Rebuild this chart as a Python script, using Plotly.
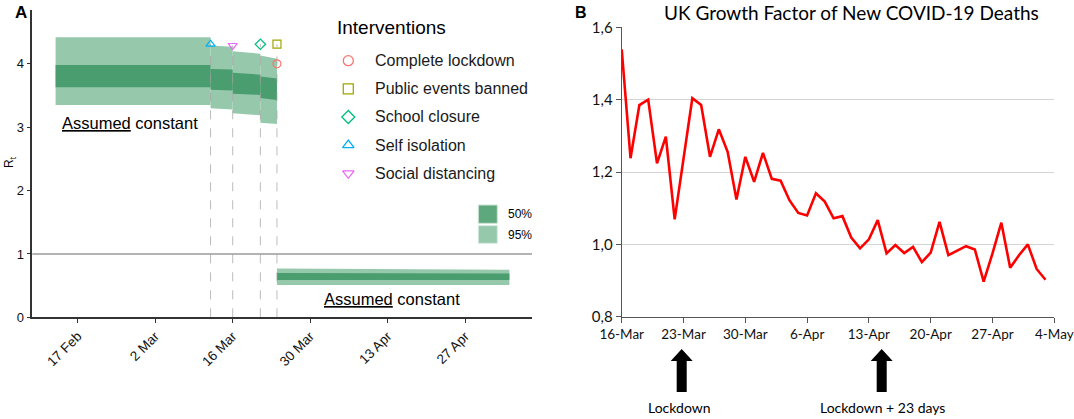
import plotly.graph_objects as go
import pandas as pd

W, H = 1074, 419


def fx(p):
    # pixel column -> paper x
    return p / W


def fy(p):
    # pixel row -> paper y
    return (H - p) / H


# ---- Panel A: estimated Rt, piecewise constant between interventions
seg_start = ["2020-02-13", "2020-03-12", "2020-03-16", "2020-03-21", "2020-03-24"]
seg_end = ["2020-03-12", "2020-03-16", "2020-03-21", "2020-03-24", "2020-05-05"]
lo95_start = [3.35, 3.30, 3.22, 3.07, 0.51]
lo95_end = [3.35, 3.28, 3.19, 3.05, 0.51]
hi95_start = [4.42, 4.29, 4.20, 4.13, 0.77]
hi95_end = [4.42, 4.27, 4.16, 4.08, 0.75]
lo50_start = [3.63, 3.59, 3.53, 3.46, 0.59]
lo50_end = [3.63, 3.58, 3.51, 3.43, 0.59]
hi50_start = [3.98, 3.92, 3.86, 3.80, 0.70]
hi50_end = [3.98, 3.91, 3.83, 3.77, 0.69]

interventions = ["Complete lockdown", "Public events banned", "School closure",
                 "Self isolation", "Social distancing"]
int_dates = ["2020-03-24", "2020-03-24", "2020-03-21", "2020-03-12", "2020-03-16"]
int_marker_y = [4.0, 4.31, 4.31, 4.31, 4.29]
int_symbols = ["circle-open", "square-open", "diamond-open",
               "triangle-up-open", "triangle-down-open"]
int_colors = ["#F8766D", "#A3A500", "#00BF7D", "#00B0F6", "#E76BF3"]

# ---- Panel B: UK growth factor of new deaths, daily from 16 Mar
growth = [1.539, 1.238, 1.385, 1.400, 1.224, 1.298, 1.069, 1.235, 1.404, 1.385,
          1.242, 1.318, 1.256, 1.124, 1.242, 1.173, 1.253, 1.181, 1.176, 1.122,
          1.087, 1.080, 1.141, 1.118, 1.072, 1.078, 1.019, 0.989, 1.014, 1.067,
          0.975, 0.998, 0.976, 0.993, 0.951, 0.977, 1.062, 0.970, 0.982, 0.995,
          0.986, 0.897, 0.975, 1.060, 0.935, 0.970, 1.000, 0.932, 0.902]
growth_dates = pd.date_range("2020-03-16", periods=len(growth), freq="D")
growth_ticks = [0.8, 1.0, 1.2, 1.4, 1.6]

C95 = "#96c8ac"
C50 = "#4a9d6e"
FA = "Liberation Sans, Arial, sans-serif"
FB = "Lato, Open Sans, sans-serif"

fig = go.Figure()

# bands: 95% then 50%
for lo_s, lo_e, hi_s, hi_e, col in [(lo95_start, lo95_end, hi95_start, hi95_end, C95),
                                     (lo50_start, lo50_end, hi50_start, hi50_end, C50)]:
    for i in range(len(seg_start)):
        fig.add_trace(go.Scatter(
            x=[seg_start[i], seg_end[i], seg_end[i], seg_start[i]],
            y=[lo_s[i], lo_e[i], hi_e[i], hi_s[i]],
            fill="toself", fillcolor=col, mode="lines", line=dict(width=0),
            showlegend=False, hoverinfo="skip", xaxis="x", yaxis="y"))

# dashed lines at the intervention dates
vx, vy = [], []
for d in sorted(set(int_dates)):
    top = max(y for dd, y in zip(int_dates, int_marker_y) if dd == d)
    vx += [d, d, None]
    vy += [0, top, None]
fig.add_trace(go.Scatter(x=vx, y=vy, mode="lines",
                         line=dict(color="rgba(160,160,160,0.7)", width=1, dash="dash"),
                         showlegend=False, hoverinfo="skip", xaxis="x", yaxis="y"))

# intervention markers on top of the bands
for name, d, yv, sym, col in zip(interventions, int_dates, int_marker_y, int_symbols, int_colors):
    fig.add_trace(go.Scatter(x=[d], y=[yv], mode="markers",
                             marker=dict(symbol=sym, size=8, color=col, line=dict(width=1.2, color=col)),
                             showlegend=False, name=name, xaxis="x", yaxis="y"))

# manual legend for interventions on hidden axes
fig.add_trace(go.Scatter(x=[0.0415] * len(interventions), y=list(range(len(interventions))),
                         mode="markers",
                         marker=dict(symbol=int_symbols, size=10, color=int_colors,
                                     line=dict(width=1.3, color=int_colors)),
                         showlegend=False, hoverinfo="skip", xaxis="x3", yaxis="y3"))

# panel B line
fig.add_trace(go.Scatter(x=growth_dates, y=growth, mode="lines",
                         line=dict(color="#ff0000", width=2.6),
                         showlegend=False, xaxis="x2", yaxis="y2"))

annotations = []
for i, name in enumerate(interventions):
    annotations.append(dict(x=0.1635, y=i, xref="x3", yref="y3", text=name,
                            showarrow=False, xanchor="left", yanchor="middle",
                            font=dict(family=FA, size=16, color="#1a1a1a")))


def note(px, py, text, size, family=FA, xanchor="center", **kw):
    return dict(x=fx(px), y=fy(py), xref="paper", yref="paper", text=text,
                showarrow=False, xanchor=xanchor, yanchor="middle",
                font=dict(family=family, size=size, color="black"), **kw)


annotations += [
    note(335, 27, "Interventions", 19, xanchor="left"),
    note(13, 13, "<b>A</b>", 17, xanchor="left"),
    note(10, 162, "R<sub>t</sub>", 12, textangle=-90),
    note(129.5, 123.3, "<u>Assumed</u> constant", 16.5),
    note(392, 299.3, "<u>Assumed</u> constant", 16.5),
    note(506, 214, "50%", 12, xanchor="left"),
    note(506, 234.5, "95%", 12, xanchor="left"),
    # panel B
    note(573, 12, "<b>B</b>", 16, xanchor="left"),
    note(851, 12, "UK Growth Factor of New COVID-19 Deaths", 19, family=FB),
    note(679, 407, "Lockdown", 14, family=FB),
    note(882, 407, "Lockdown + 23 days", 14, family=FB),
]


def block_arrow(cx):
    # thick black up-arrow below panel B's axis, in pixel units
    pts = [(cx - 5, 392), (cx - 5, 361), (cx - 11, 361), (cx, 349),
           (cx + 11, 361), (cx + 5, 361), (cx + 5, 392)]
    path = "M " + " L ".join(f"{fx(x):.5f},{fy(y):.5f}" for x, y in pts) + " Z"
    return dict(type="path", xref="paper", yref="paper", path=path,
                fillcolor="black", line=dict(width=0))


shapes = [
    dict(type="line", xref="x domain", yref="y", x0=0, x1=1, y0=1, y1=1,
         line=dict(color="#9a9a9a", width=1.4), layer="below"),
    dict(type="rect", xref="paper", yref="paper", x0=fx(478.3), x1=fx(497.3),
         y0=fy(223.3), y1=fy(205), fillcolor="#5ea87d", line=dict(color="#cfe5d8", width=1)),
    dict(type="rect", xref="paper", yref="paper", x0=fx(478.3), x1=fx(497.3),
         y0=fy(243.3), y1=fy(225.7), fillcolor=C95, line=dict(color="#d6ebdf", width=1)),
    block_arrow(681.7),
    block_arrow(881.7),
]

fig.update_layout(
    width=W, height=H, margin=dict(l=0, r=0, t=0, b=0, autoexpand=False),
    plot_bgcolor="white", paper_bgcolor="white", showlegend=False,
    annotations=annotations, shapes=shapes,
    xaxis=dict(domain=[fx(32.3), fx(532)], anchor="y", type="date",
               range=["2020-02-08 19:00", "2020-05-09 02:00"],
               tick0="2020-02-17", dtick=14 * 86400000, tickformat="%-d %b",
               tickangle=-45, ticks="outside", ticklen=4, tickcolor="#333",
               showline=True, linecolor="#333", linewidth=1.5, showgrid=False,
               zeroline=False, tickfont=dict(family=FA, size=13.5, color="#111")),
    yaxis=dict(domain=[fy(317.3), fy(10)], anchor="x", range=[0, 4.85],
               tickvals=[0, 1, 2, 3, 4], ticks="outside", ticklen=4, tickcolor="#333",
               showline=True, linecolor="#333", linewidth=1.5, showgrid=False,
               zeroline=False, tickfont=dict(family=FA, size=13, color="#111")),
    xaxis2=dict(domain=[fx(621.7), fx(1054.3)], anchor="y2", type="date",
                range=["2020-03-16", "2020-05-04"],
                tick0="2020-03-16", dtick=7 * 86400000, tickformat="%-d-%b",
                ticks="outside", ticklen=5, tickcolor="#555",
                showline=True, linecolor="#555", linewidth=1.2, showgrid=False,
                zeroline=False, tickfont=dict(family=FB, size=13.5, color="#111")),
    yaxis2=dict(domain=[fy(316.7), fy(27.3)], anchor="x2", range=[0.8, 1.6],
                tickvals=growth_ticks, ticktext=[f"{v:.1f}".replace(".", ",") for v in growth_ticks],
                ticks="outside", ticklen=5, tickcolor="#555",
                showline=True, linecolor="#555", linewidth=1.2,
                showgrid=True, gridcolor="#d4d4d4", gridwidth=1,
                zeroline=False, tickfont=dict(family=FB, size=15, color="#111")),
    xaxis3=dict(domain=[fx(340), fx(540)], anchor="y3", range=[0, 1], visible=False),
    yaxis3=dict(domain=[fy(190), fy(40)], anchor="x3", range=[4.594, -0.735], visible=False),
)

fig.write_html("out.html", config={"displayModeBar": False},
               post_script="document.body.style.margin='0px';")
